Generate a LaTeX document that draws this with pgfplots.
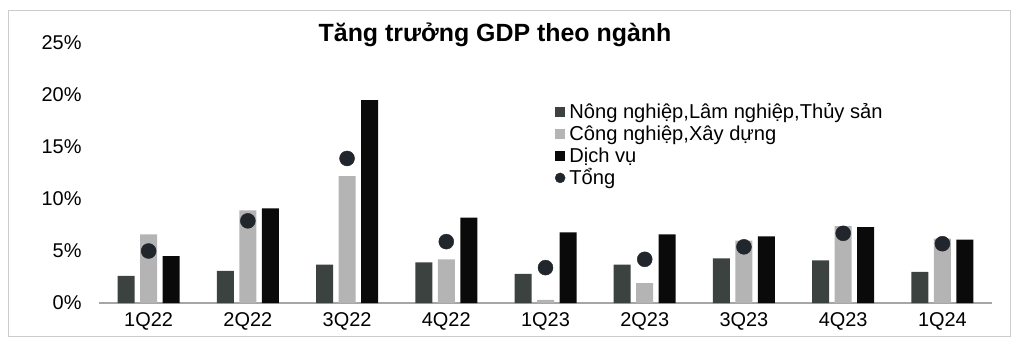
\documentclass[border=0pt]{standalone}
\usepackage{pgfplots}
\pgfplotsset{compat=1.18}
\usepackage{fontspec}
\setmainfont{Liberation Sans}
\definecolor{agri}{HTML}{3C4240}
\definecolor{indu}{HTML}{B4B4B4}
\definecolor{serv}{HTML}{0A0A0A}
\definecolor{tot}{HTML}{20262C}
\begin{document}
\begin{tikzpicture}[x=1bp,y=1bp]
\path[use as bounding box] (0,0) rectangle (1015,339);
\draw[gray!40, line width=0.8bp] (8,3) rectangle (1010,329);
\node[font=\fontsize{25}{28}\selectfont\bfseries] at (495,304) {Tăng trưởng GDP theo ngành};
\begin{axis}[
  at={(99bp,36bp)}, anchor=south west,
  scale only axis, width=893bp, height=260bp,
  xmin=-0.5, xmax=8.5, ymin=0, ymax=25,
  axis x line*=bottom, axis y line*=left,
  x axis line style={draw=gray!70, line width=1.2bp, -},
  y axis line style={draw=none},
  xtick={0,...,8},
  xticklabels={1Q22,2Q22,3Q22,4Q22,1Q23,2Q23,3Q23,4Q23,1Q24},
  ytick={0,5,10,15,20,25},
  yticklabel={\pgfmathprintnumber{\tick}\%},
  /pgf/number format/assume math mode=true,
  major tick length=0,
  tick label style={font=\fontsize{20}{23}\selectfont},
  yticklabel style={xshift=-14bp},
  xticklabel style={yshift=-6bp},
  legend style={at={(0.507,0.78)}, anchor=north west, draw=none, fill=none,
    font=\fontsize{20.2}{23}\selectfont, cells={anchor=west},
    row sep=0bp, nodes={text height=14.5bp, text depth=4.5bp, inner ysep=1.5bp, inner xsep=4bp}},
  legend image code/.code={\fill[#1] (0bp,-3.5bp) rectangle (10bp,6.5bp);},
]
\addplot[ybar, bar width=17bp, bar shift=-22.5bp, fill=agri, draw=none] coordinates {
(0,2.6) (1,3.1) (2,3.7) (3,3.9) (4,2.8) (5,3.7) (6,4.3) (7,4.1) (8,3.0)};
\addlegendentry{Nông nghiệp,Lâm nghiệp,Thủy sản}
\addplot[ybar, bar width=17bp, bar shift=0bp, fill=indu, draw=none] coordinates {
(0,6.6) (1,8.9) (2,12.2) (3,4.2) (4,0.3) (5,1.9) (6,6.0) (7,7.4) (8,6.2)};
\addlegendentry{Công nghiệp,Xây dựng}
\addplot[ybar, bar width=17bp, bar shift=22.5bp, fill=serv, draw=none] coordinates {
(0,4.5) (1,9.1) (2,19.5) (3,8.2) (4,6.8) (5,6.6) (6,6.4) (7,7.3) (8,6.1)};
\addlegendentry{Dịch vụ}
\addplot[only marks, mark=*, mark size=7.5bp, mark options={fill=tot, draw=tot},
  legend image code/.code={\fill[tot] (5bp,1.5bp) circle (5bp);}] coordinates {
(0,5.0) (1,7.9) (2,13.9) (3,5.9) (4,3.4) (5,4.2) (6,5.4) (7,6.7) (8,5.7)};
\addlegendentry{Tổng}
\end{axis}
\end{tikzpicture}
\end{document}
